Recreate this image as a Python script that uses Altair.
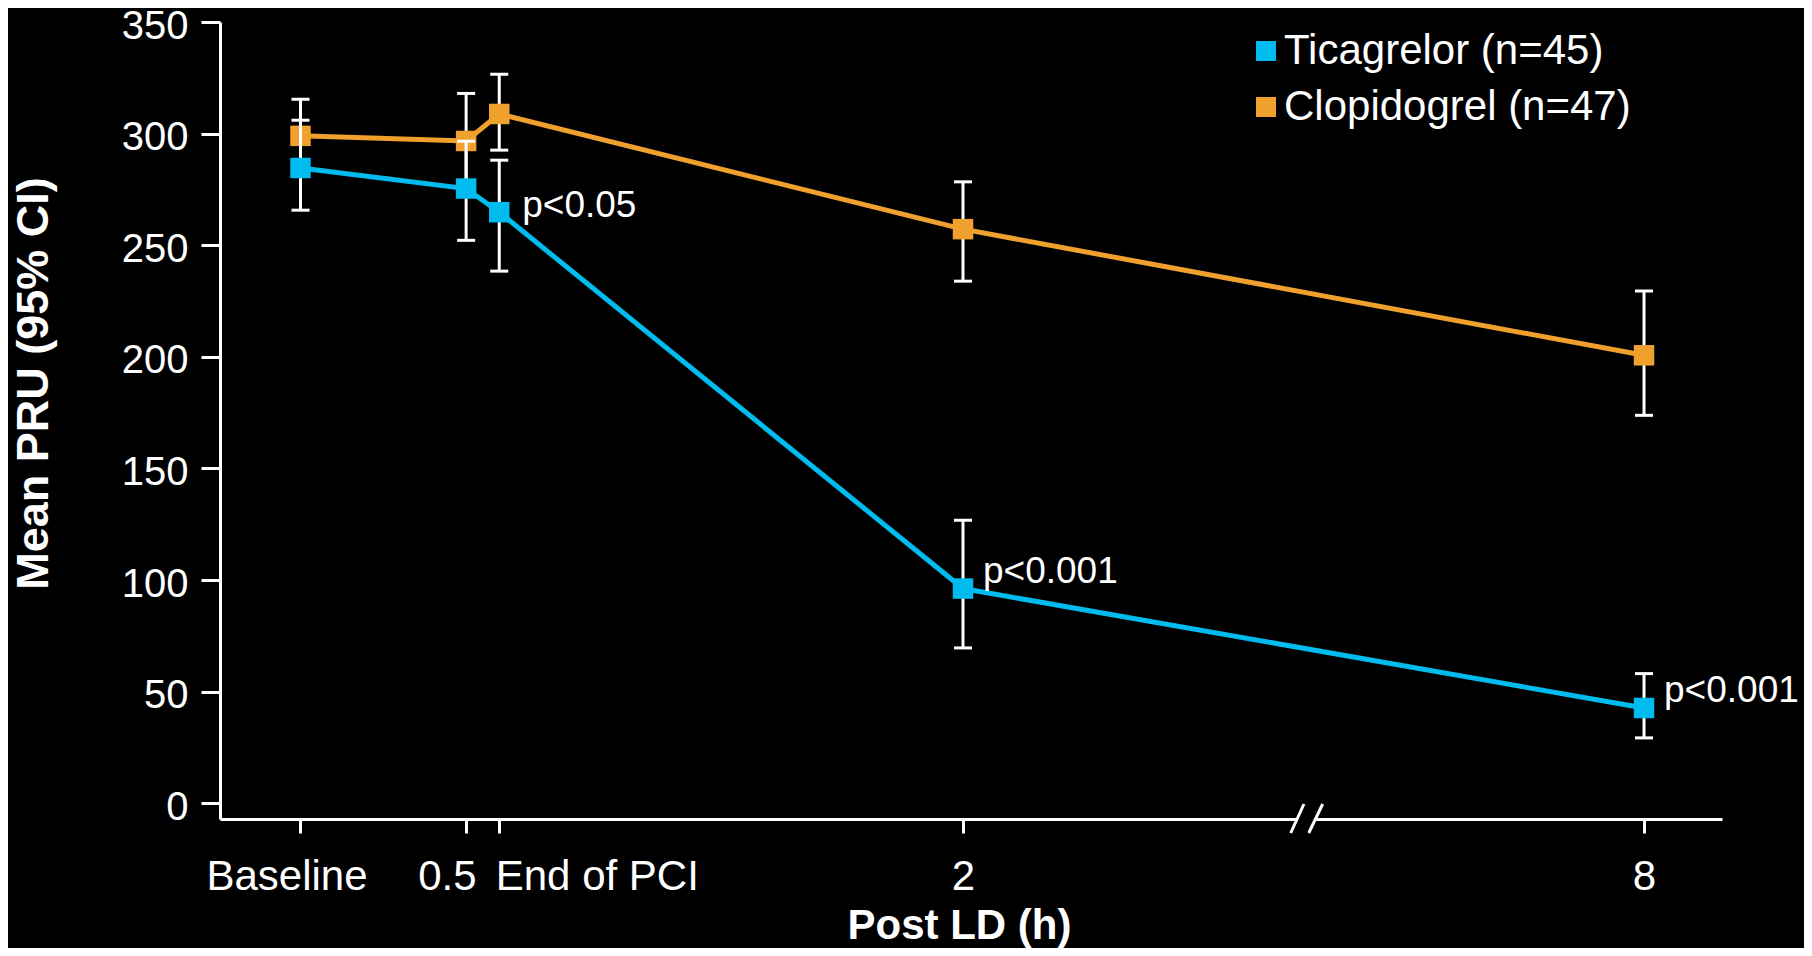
import altair as alt
import pandas as pd

# ---------------- data ----------------
time_hours = [0, 0.5, 0.6, 2, 8]
time_labels = ["Baseline", "0.5", "End of PCI", "2", "8"]

series_names = ["Ticagrelor (n=45)", "Clopidogrel (n=47)"]
series_colors = ["#00BBEE", "#F0A02C"]

tica_mean = [284.6, 275.4, 264.8, 96.2, 42.7]
tica_lo = [265.7, 252.2, 238.4, 69.6, 29.3]
tica_hi = [306.0, 296.6, 288.1, 126.8, 58.1]

clop_mean = [299.0, 296.7, 308.8, 257.2, 200.7]
clop_lo = [282.6, 275.5, 292.6, 233.9, 173.8]
clop_hi = [315.4, 318.0, 326.6, 278.4, 229.5]

p_hours = [0.6, 2, 8]
p_texts = ["p<0.05", "p<0.001", "p<0.001"]

y_ticks = [0, 50, 100, 150, 200, 250, 300, 350]
axis_break = 5.0  # position of the broken-axis mark (hours units)

# ---------------- tables ----------------
rows = []
for name, means, los, his in [
    (series_names[0], tica_mean, tica_lo, tica_hi),
    (series_names[1], clop_mean, clop_lo, clop_hi),
]:
    for t, m, lo, hi in zip(time_hours, means, los, his):
        rows.append({"series": name, "hours": t, "mean": m, "lo": lo, "hi": hi})
df = pd.DataFrame(rows)

pdf = pd.DataFrame({
    "hours": p_hours,
    "text": p_texts,
    "mean": [tica_mean[time_hours.index(h)] for h in p_hours],
})

brk = pd.DataFrame({"b": [axis_break]})
slashes = pd.DataFrame({"b": [axis_break, axis_break], "k": [0, 1]})

# ---------------- styling ----------------
FONT = "Liberation Sans"
W, H = 1502, 797

xscale = alt.Scale(domain=[-0.243, 2, 8.687], range=[0, 743, W], nice=False, zero=False)
yscale = alt.Scale(domain=[-7.03, 350], nice=False, zero=False)

label_expr = " : ".join(
    f"datum.value == {t} ? '{l}'" for t, l in zip(time_hours, time_labels)
) + " : ''"

xaxis = alt.Axis(
    values=time_hours,
    labelExpr=label_expr,
    title="Post LD (h)",
    grid=False,
    tickSize=14, tickWidth=3, tickColor="white",
    domainWidth=3, domainColor="white",
    labelFont=FONT, labelFontSize=42, labelColor="white", labelLimit=0,
    labelPadding=23, labelFlush=False, labelOverlap=False,
    labelAlign={"expr": "datum.value == 0.5 ? 'right' : datum.value == 0.6 ? 'left' : 'center'"},
    labelOffset={"expr": "datum.value == 0 ? -14 : datum.value == 0.5 ? 10 : datum.value == 0.6 ? -4 : 0"},
    titleFont=FONT, titleFontSize=42, titleFontWeight="bold", titleColor="white",
    titleX=739, titleY=119, titleAlign="center", titleBaseline="alphabetic",
)

yaxis = alt.Axis(
    values=y_ticks,
    title="Mean PRU (95% CI)",
    grid=False,
    tickSize=19, tickWidth=3, tickColor="white",
    domainWidth=3, domainColor="white",
    labelFont=FONT, labelFontSize=40, labelColor="white", labelPadding=13, labelOffset=4,
    titleFont=FONT, titleFontSize=45, titleFontWeight="bold", titleColor="white",
    titleX=-187, titleY=361, titleAngle=-90, titleAlign="center", titleBaseline="middle",
)

legend = alt.Legend(
    title=None, orient="none", legendX=1025, legendY=8, direction="vertical",
    symbolType="square", symbolSize=400, symbolStrokeWidth=0, symbolOpacity=1,
    labelFont=FONT, labelFontSize=42, labelColor="white", labelLimit=0,
    labelOffset={"expr": "-3"}, rowPadding=14, padding=0,
)

X = alt.X("hours:Q", scale=xscale, axis=xaxis)


def series_layers(i):
    name = series_names[i]
    col = series_colors[i]
    base = alt.Chart(df).transform_filter(alt.datum.series == name)
    bars = base.mark_rule(color="white", strokeWidth=3, opacity=1).encode(
        x=X, y=alt.Y("lo:Q", scale=yscale, axis=yaxis), y2="hi:Q")
    cap_lo = base.mark_tick(color="white", orient="horizontal", size=18, thickness=3, opacity=1).encode(
        x=X, y=alt.Y("lo:Q", scale=yscale, axis=yaxis))
    cap_hi = base.mark_tick(color="white", orient="horizontal", size=18, thickness=3, opacity=1).encode(
        x=X, y=alt.Y("hi:Q", scale=yscale, axis=yaxis))
    line = base.mark_line(color=col, strokeWidth=5, opacity=1).encode(
        x=X, y=alt.Y("mean:Q", scale=yscale, axis=yaxis))
    pts = base.mark_square(size=420, opacity=1, filled=True).encode(
        x=X, y=alt.Y("mean:Q", scale=yscale, axis=yaxis),
        color=alt.Color("series:N", scale=alt.Scale(domain=series_names, range=series_colors), legend=legend))
    return [bars, cap_lo, cap_hi, line, pts]


ptext = alt.Chart(pdf)
p05 = ptext.transform_filter(alt.datum.text == "p<0.05").mark_text(
    align="left", baseline="middle", dx=23, dy=-6, font=FONT, fontSize=37, color="white"
).encode(x=X, y=alt.Y("mean:Q", scale=yscale, axis=yaxis), text="text:N")
p001 = ptext.transform_filter(alt.datum.text == "p<0.001").mark_text(
    align="left", baseline="middle", dx=20, dy=-17, font=FONT, fontSize=37, color="white"
).encode(x=X, y=alt.Y("mean:Q", scale=yscale, axis=yaxis), text="text:N")

gap = alt.Chart(brk).transform_calculate(
    b1="datum.b - 0.05", b2="datum.b + 0.105"
).mark_rect(color="black", opacity=1).encode(
    x=alt.X("b1:Q", scale=xscale, axis=xaxis), x2="b2:Q",
    y=alt.value(H - 5), y2=alt.value(H + 5))

slash = alt.Chart(slashes).transform_calculate(
    s1="datum.b - 0.113 + datum.k * 0.159", s2="datum.b + 0.004 + datum.k * 0.165"
).mark_rule(color="white", strokeWidth=3, opacity=1).encode(
    x=alt.X("s1:Q", scale=xscale, axis=xaxis), x2="s2:Q",
    y=alt.value(H + 14), y2=alt.value(H - 15))

layers = series_layers(1) + series_layers(0) + [p05, p001, gap, slash]

chart = alt.layer(*layers).properties(
    width=W, height=H,
    padding={"left": 212, "top": 14, "right": 82, "bottom": 129},
    autosize=alt.AutoSizeParams(type="none"),
    background="black",
).configure_view(stroke=None)

chart.save("out.html", embed_options={"renderer": "svg", "actions": False})
